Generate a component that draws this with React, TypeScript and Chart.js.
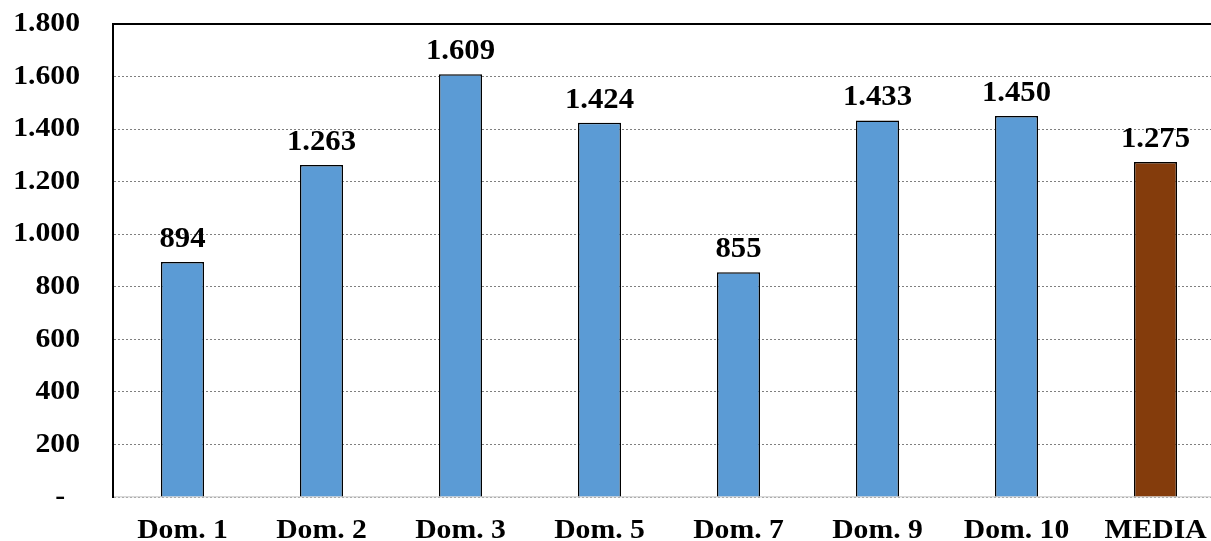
import React, { useEffect, useRef } from "react";
import { Chart, registerables } from "chart.js";

Chart.register(...registerables);

const categories = ["Dom. 1", "Dom. 2", "Dom. 3", "Dom. 5", "Dom. 7", "Dom. 9", "Dom. 10", "MEDIA"];
const values = [894, 1263, 1609, 1424, 855, 1433, 1450, 1275];
const barColors = ["#5B9BD5", "#5B9BD5", "#5B9BD5", "#5B9BD5", "#5B9BD5", "#5B9BD5", "#5B9BD5", "#843C0C"];
const yMin = 0;
const yMax = 1800;
const yStep = 200;

const STRETCH = 1.06;
const FONT_FAMILY = "'Liberation Serif', 'Times New Roman', serif";

function fmt(v: number): string {
  const s = Math.round(v).toString();
  return s.replace(/\B(?=(\d{3})+(?!\d))/g, ".");
}

const stretchPlugin = {
  id: "stretchText",
  beforeDraw(chart: any) {
    const ctx = chart.ctx as any;
    if (ctx.__stretched) return;
    ctx.__stretched = true;
    const orig = ctx.fillText;
    ctx.fillText = function (text: string, x: number, y: number, maxWidth?: number) {
      this.save();
      this.translate(x, y);
      this.scale(STRETCH, 1);
      if (maxWidth !== undefined && maxWidth !== null) orig.call(this, text, 0, 0, maxWidth / STRETCH);
      else orig.call(this, text, 0, 0);
      this.restore();
    };
  },
};

const framePlugin = {
  id: "frame",
  afterDatasetsDraw(chart: any) {
    const { ctx, chartArea } = chart;
    ctx.save();
    ctx.strokeStyle = "#000";
    ctx.lineWidth = 2;
    ctx.beginPath();
    ctx.moveTo(chartArea.left - 1, chartArea.top);
    ctx.lineTo(chartArea.right + 2, chartArea.top);
    ctx.stroke();
    ctx.restore();
  },
  afterDraw(chart: any) {
    const { ctx } = chart;
    const meta = chart.getDatasetMeta(0);
    ctx.save();
    ctx.font = `bold 29px ${FONT_FAMILY}`;
    ctx.fillStyle = "#000";
    ctx.textAlign = "center";
    ctx.textBaseline = "alphabetic";
    meta.data.forEach((bar: any, i: number) => {
      ctx.fillText(fmt(values[i]), bar.x, bar.y - 15);
    });
    ctx.restore();
  },
};

export default function App() {
  const ref = useRef<HTMLCanvasElement | null>(null);
  useEffect(() => {
    if (!ref.current) return;
    const chart = new Chart(ref.current, {
      type: "bar",
      data: {
        labels: categories,
        datasets: [
          {
            data: values,
            backgroundColor: barColors,
            borderColor: "#000",
            borderWidth: 1.5,
            barPercentage: 0.31,
            categoryPercentage: 1,
          },
        ],
      },
      options: {
        responsive: false,
        animation: false,
        devicePixelRatio: 1,
        layout: { padding: { top: 24, right: 1, left: 0, bottom: 0 } },
        plugins: { legend: { display: false }, tooltip: { enabled: false } },
        scales: {
          x: {
            grid: { display: false, drawTicks: false },
            border: { display: true, color: "#D9D9D9", width: 1.5 },
            ticks: {
              color: "#000",
              font: { family: FONT_FAMILY, size: 28, weight: "bold" },
              padding: 17,
              maxRotation: 0,
              autoSkip: false,
            },
            afterFit(scale: any) {
              scale.height = 44;
              scale.paddingTop = 0;
              scale.paddingBottom = 0;
            },
          },
          y: {
            min: yMin,
            max: yMax,
            grid: { color: "#7F7F7F", lineWidth: 1, drawTicks: false },
            border: { display: true, color: "#000", width: 2, dash: [2, 2] },
            ticks: {
              stepSize: yStep,
              color: "#000",
              padding: 33,
              font: { family: FONT_FAMILY, size: 28, weight: "bold" },
              callback: (v: any) => (Number(v) === 0 ? "-  " : fmt(Number(v))),
            },
            afterFit(scale: any) {
              scale.width = 113;
              scale.paddingTop = 0;
              scale.paddingBottom = 0;
            },
          },
        },
      },
      plugins: [stretchPlugin, framePlugin],
    });
    return () => chart.destroy();
  }, []);
  return (
    <div style={{ position: "fixed", left: 0, top: 0, width: 1211, height: 541, overflow: "hidden", background: "#fff" }}>
      <canvas ref={ref} width={1226} height={541} style={{ display: "block" }} />
    </div>
  );
}
